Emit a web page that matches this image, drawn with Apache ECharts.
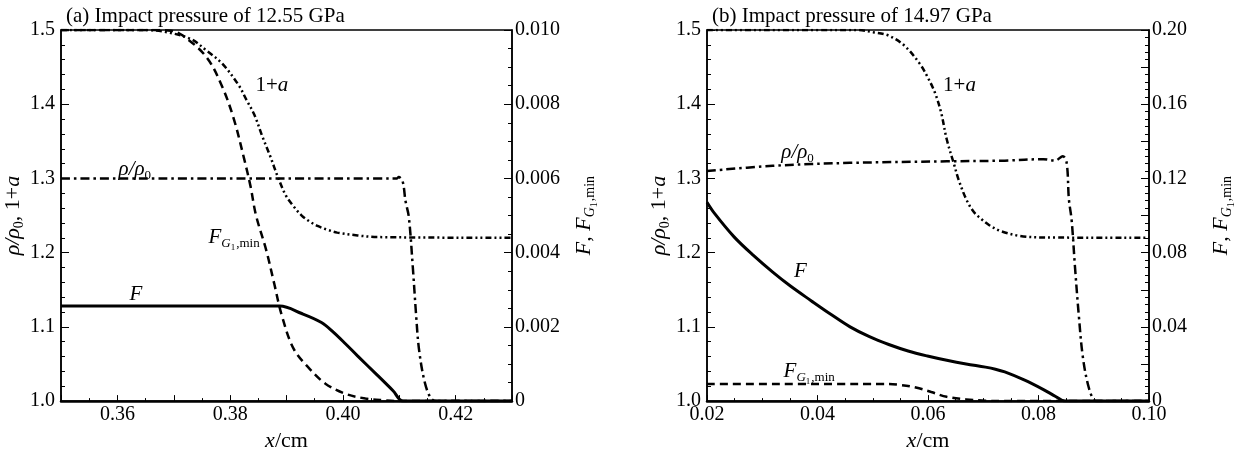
<!DOCTYPE html>
<html>
<head>
<meta charset="utf-8">
<script src="https://cdn.jsdelivr.net/npm/echarts@6/dist/echarts.min.js"></script>
<style>
html,body{margin:0;padding:0;background:#fff;}
#chart{width:1237px;height:457px;}
</style>
</head>
<body>
<div id="chart"></div>
<script>
// ---------------- Titles ----------------
const titleA = '(a) Impact pressure of 12.55 GPa';
const titleB = '(b) Impact pressure of 14.97 GPa';

// ---------------- Data: panel (a), impact pressure 12.55 GPa ----------------
// 1+a (left axis)
const a_onePlusA_x = [0.35, 0.365, 0.3688, 0.373, 0.3758, 0.3786, 0.3815, 0.3829, 0.3843, 0.3857, 0.3871, 0.3885, 0.3899, 0.3913, 0.3927, 0.3941, 0.3955, 0.3972, 0.399, 0.4026, 0.4061, 0.43];
const a_onePlusA_y = [1.5, 1.5, 1.4969, 1.488, 1.4724, 1.4547, 1.4258, 1.4058, 1.3858, 1.3569, 1.3302, 1.3013, 1.2769, 1.262, 1.250, 1.242, 1.236, 1.231, 1.227, 1.2232, 1.221, 1.22];
// rho/rho0 (left axis)
const a_rho_x = [0.35, 0.409, 0.4096, 0.4099, 0.4106, 0.4111, 0.4117, 0.4124, 0.413, 0.4135, 0.4145, 0.4156, 0.4166, 0.43];
const a_rho_y = [1.3, 1.3, 1.3, 1.302, 1.296, 1.27, 1.248, 1.181, 1.115, 1.07, 1.026, 1.004, 1.0, 1.0];
// F (right axis)
const a_F_x = [0.35, 0.3888, 0.3927, 0.3962, 0.3983, 0.4005, 0.4026, 0.4061, 0.4089, 0.4107, 0.43];
const a_F_y = [0.00256, 0.00256, 0.00236, 0.00212, 0.00186, 0.00154, 0.00122, 0.0007, 0.00028, 0, 0];
// F_G1,min (right axis)
const a_FG_x = [0.35, 0.366, 0.3695, 0.3716, 0.3758, 0.3786, 0.3807, 0.3825, 0.3836, 0.3846, 0.3864, 0.3878, 0.3892, 0.3913, 0.3941, 0.3969, 0.4004, 0.404, 0.4075, 0.41, 0.43];
const a_FG_y = [0.01, 0.01, 0.00998, 0.00985, 0.00927, 0.00847, 0.00758, 0.00652, 0.0058, 0.005, 0.00407, 0.00318, 0.00229, 0.0014, 0.00087, 0.00047, 0.0002, 0.00007, 0.00002, 0, 0];

// ---------------- Data: panel (b), impact pressure 14.97 GPa ----------------
const b_onePlusA_x = [0.02, 0.0473, 0.0501, 0.0529, 0.0557, 0.0585, 0.0599, 0.0613, 0.0624, 0.0634, 0.0648, 0.0655, 0.0669, 0.0683, 0.0697, 0.0711, 0.0732, 0.0767, 0.0809, 0.10];
const b_onePlusA_y = [1.5, 1.5, 1.497, 1.4924, 1.4791, 1.4547, 1.4369, 1.4147, 1.388, 1.3524, 1.3169, 1.2991, 1.2724, 1.2547, 1.245, 1.237, 1.229, 1.2225, 1.2205, 1.22];
const b_rho_x = [0.02, 0.0319, 0.0459, 0.0634, 0.0739, 0.0809, 0.083, 0.0844, 0.0851, 0.0855, 0.086, 0.0866, 0.0873, 0.088, 0.089, 0.0901, 0.0908, 0.10];
const b_rho_y = [1.310, 1.317, 1.321, 1.323, 1.324, 1.326, 1.324, 1.330, 1.321, 1.272, 1.2436, 1.181, 1.115, 1.061, 1.021, 1.001, 1.0, 1.0];
const b_F_x = [0.02, 0.0214, 0.0249, 0.0284, 0.0319, 0.0351, 0.0389, 0.0424, 0.0459, 0.0494, 0.0529, 0.0564, 0.0599, 0.0634, 0.0669, 0.0704, 0.0722, 0.0739, 0.0774, 0.0809, 0.0831, 0.0848, 0.10];
const b_F_y = [0.1072, 0.1010, 0.0885, 0.0785, 0.0695, 0.0620, 0.0540, 0.0468, 0.0400, 0.0347, 0.0305, 0.0270, 0.0243, 0.0220, 0.0200, 0.0183, 0.0172, 0.0157, 0.0114, 0.0062, 0.0025, 0, 0];
const b_FG_x = [0.02, 0.0529, 0.055, 0.0578, 0.0606, 0.0634, 0.0669, 0.0704, 0.0739, 0.10];
const b_FG_y = [0.0092, 0.0092, 0.0087, 0.0073, 0.0049, 0.0023, 0.0009, 0.0002, 0, 0];

// ---------------- Annotation labels (data coordinates, left axis) ----------------
const labelsA = [
  {text: '{r|1+}{i|a}', x: 0.3874, y: 1.4255},
  {text: '{i|ρ/ρ}{s|0}', x: 0.3631, y: 1.312},
  {text: '{i|F}{si|G}{ss|1}{s|,min}', x: 0.3807, y: 1.2207},
  {text: '{i|F}', x: 0.3633, y: 1.1436}
];
const labelsB = [
  {text: '{r|1+}{i|a}', x: 0.0657, y: 1.4255},
  {text: '{i|ρ/ρ}{s|0}', x: 0.0364, y: 1.335},
  {text: '{i|F}', x: 0.0369, y: 1.174},
  {text: '{i|F}{si|G}{ss|1}{s|,min}', x: 0.0385, y: 1.04}
];

// ---------------- Chart ----------------
const FONT = '"Liberation Serif", "Times New Roman", serif';
const BLACK = '#000';
const zip = (xs, ys) => xs.map((x, i) => [x, ys[i]]);

function rich(size) {
  return {
    r: {fontFamily: FONT, fontSize: size, color: BLACK},
    i: {fontFamily: FONT, fontSize: size, fontStyle: 'italic', color: BLACK},
    s: {fontFamily: FONT, fontSize: Math.round(size * 0.62), color: BLACK, padding: [12, 0, 0, 0]},
    si: {fontFamily: FONT, fontSize: Math.round(size * 0.62), fontStyle: 'italic', color: BLACK, padding: [12, 0, 0, 0]},
    ss: {fontFamily: FONT, fontSize: Math.round(size * 0.45), color: BLACK, padding: [20, 1, 0, 0]}
  };
}

const tickFont = {fontFamily: FONT, fontSize: 20, color: BLACK};

function xAxisCfg(gridIndex, min, max, interval, minorSplit, fmt) {
  return {
    type: 'value', gridIndex, min, max, interval,
    axisLine: {show: true, onZero: false, lineStyle: {color: BLACK, width: 2.5}},
    axisTick: {show: true, inside: true, length: 6, lineStyle: {color: BLACK, width: 1}},
    minorTick: {show: true, splitNumber: minorSplit, length: 3, lineStyle: {color: BLACK, width: 1}},
    axisLabel: Object.assign({margin: 4, formatter: fmt}, tickFont),
    splitLine: {show: false},
    name: '{i|x}{r|/cm}', nameLocation: 'middle', nameGap: 28,
    nameTextStyle: {rich: rich(22)}
  };
}
function yAxisCfg(gridIndex, pos, min, max, interval, minorSplit, fmt, name) {
  return {
    type: 'value', gridIndex, position: pos, min, max, interval,
    axisLine: {show: true, onZero: false, lineStyle: {color: BLACK, width: 1.5}},
    axisTick: {show: true, inside: true, length: 8, lineStyle: {color: BLACK, width: 1}},
    minorTick: {show: true, splitNumber: minorSplit, length: 4, lineStyle: {color: BLACK, width: 1}},
    axisLabel: Object.assign({margin: pos === 'left' ? 6 : 3, formatter: fmt}, tickFont),
    splitLine: {show: false},
    name, nameLocation: 'middle', nameRotate: 90, nameGap: pos === 'left' ? 34 : 57,
    nameTextStyle: {rich: rich(22)}
  };
}

const nameLeft = '{i|ρ/ρ}{s|0}{r|, 1+}{i|a}';
const nameRight = '{i|F}{r|, }{i|F}{si|G}{ss|1}{s|,min}';

function lineSeries(xi, yi, data, dash, width) {
  return {
    type: 'line', xAxisIndex: xi, yAxisIndex: yi, data, showSymbol: false, symbol: 'none',
    smooth: 0.35,
    lineStyle: {color: BLACK, width: width || 2.5, type: dash}
  };
}
function labelSeries(xi, yi, items) {
  return {
    type: 'scatter', xAxisIndex: xi, yAxisIndex: yi, symbolSize: 1,
    itemStyle: {color: 'rgba(0,0,0,0)'}, silent: true, z: 10,
    data: items.map(d => ({value: [d.x, d.y], name: d.text})),
    label: {show: true, position: 'inside', formatter: p => p.name, rich: rich(21), align: 'center', verticalAlign: 'middle', opacity: 1, color: BLACK}
  };
}

const DASH = [8, 5];
const DASHDOT = [9, 4, 2.5, 4];
const DASHDOTDOT = [6, 3, 2, 3, 2, 3];

const option = {
  animation: false,
  backgroundColor: '#fff',
  title: [
    {text: titleA, left: 61, top: 1, textStyle: {fontFamily: FONT, fontSize: 21, fontWeight: 'normal', color: BLACK}},
    {text: titleB, left: 707, top: 1, textStyle: {fontFamily: FONT, fontSize: 21, fontWeight: 'normal', color: BLACK}}
  ],
  grid: [
    {left: 61, width: 451, top: 30, height: 376, show: true, borderColor: BLACK, borderWidth: 1.5, containLabel: false},
    {left: 707, width: 455, top: 30, height: 376, show: true, borderColor: BLACK, borderWidth: 1.5, containLabel: false}
  ],
  xAxis: [
    xAxisCfg(0, 0.35, 0.43, 0.01, 2, v => (Math.round(v * 100) % 2 === 0 ? v.toFixed(2) : '')),
    xAxisCfg(1, 0.02, 0.10, 0.02, 4, v => v.toFixed(2))
  ],
  yAxis: [
    yAxisCfg(0, 'left', 1.0, 1.5, 0.1, 5, v => v.toFixed(1), nameLeft),
    yAxisCfg(0, 'right', 0, 0.01, 0.002, 4, v => (Math.abs(v) < 1e-9 ? '0' : v.toFixed(3)), nameRight),
    yAxisCfg(1, 'left', 1.0, 1.5, 0.1, 5, v => v.toFixed(1), nameLeft),
    yAxisCfg(1, 'right', 0, 0.2, 0.02, 5, v => {
      if (Math.abs(v) < 1e-9) return '0';
      return Math.round(v * 50) % 2 === 0 ? v.toFixed(2) : '';
    }, nameRight)
  ],
  series: [
    lineSeries(0, 0, zip(a_onePlusA_x, a_onePlusA_y), DASHDOTDOT),
    lineSeries(0, 0, zip(a_rho_x, a_rho_y), DASHDOT),
    lineSeries(0, 1, zip(a_F_x, a_F_y), 'solid', 3),
    lineSeries(0, 1, zip(a_FG_x, a_FG_y), DASH),
    labelSeries(0, 0, labelsA),
    lineSeries(1, 2, zip(b_onePlusA_x, b_onePlusA_y), DASHDOTDOT),
    lineSeries(1, 2, zip(b_rho_x, b_rho_y), DASHDOT),
    lineSeries(1, 3, zip(b_F_x, b_F_y), 'solid', 3),
    lineSeries(1, 3, zip(b_FG_x, b_FG_y), DASH),
    labelSeries(1, 2, labelsB)
  ]
};

const chart = echarts.init(document.getElementById('chart'), null, {renderer: 'canvas'});
chart.setOption(option);
</script>
</body>
</html>
